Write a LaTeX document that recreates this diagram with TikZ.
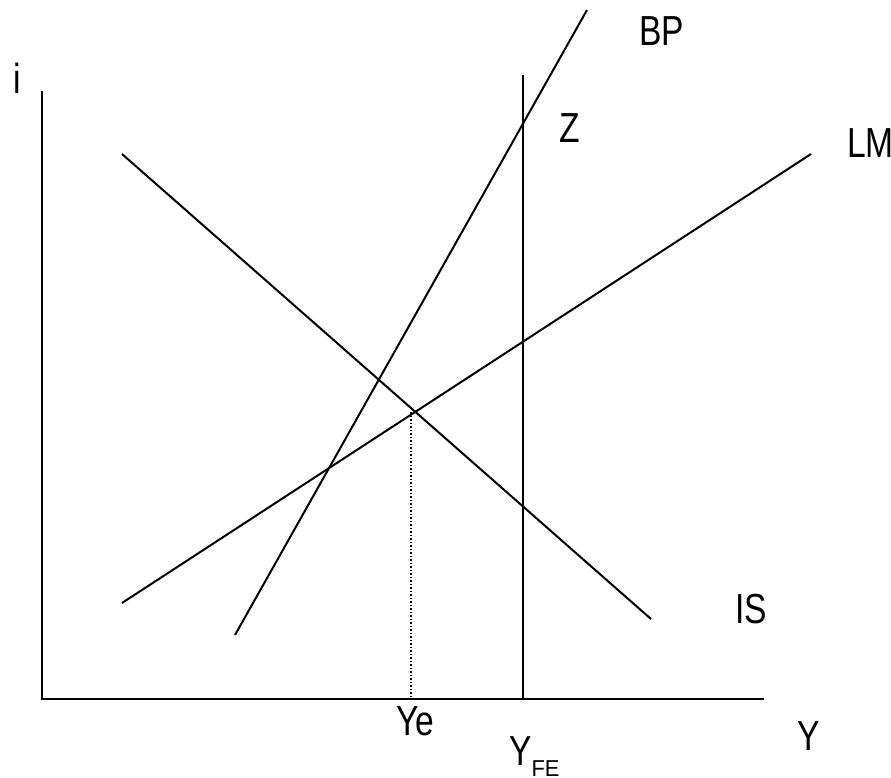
\documentclass[tikz,border=0pt]{standalone}
\usepackage{fontspec}
\setmainfont{Liberation Sans}[FakeStretch=0.8]
\newfontfamily\subfont{Liberation Sans}[FakeStretch=0.95]
\begin{document}
\begin{tikzpicture}[x=1pt,y=-1pt,
  curve/.style={line width=2pt,line cap=butt},
  lbl/.style={anchor=base west,inner sep=0pt,font=\fontsize{42}{50}\selectfont}]
\useasboundingbox (0,0) rectangle (891,778);
% axes
\coordinate (otop) at (42,91);
\coordinate (o) at (42,699);
\coordinate (xend) at (764,699);
\draw[curve] (otop) -- (o) -- (xend);
% full employment line
\coordinate (fetop) at (523,75);
\coordinate (febot) at (523,699);
\draw[curve] (fetop) -- (febot);
% IS
\coordinate (is1) at (122,154);
\coordinate (is2) at (651,619);
\draw[curve] (is1) -- (is2);
% LM
\coordinate (lm1) at (122,603);
\coordinate (lm2) at (811,154);
\draw[curve] (lm1) -- (lm2);
% BP
\coordinate (bp1) at (235,635);
\coordinate (bp2) at (587,10);
\draw[curve] (bp1) -- (bp2);
% dotted
\coordinate (eq) at (411,412);
\coordinate (eqb) at (411,699);
\draw[line width=1.5pt,dotted] (eq) -- (eqb);
% labels
\node[lbl] (li) at (13,94) {i};
\node[lbl] (lbp) at (639,46) {BP};
\node[lbl] (lz) at (559,143) {Z};
\node[lbl] (llm) at (847,158) {LM};
\node[lbl] (lis) at (735,623) {IS};
\node[lbl] (lye) at (396,735) {Ye};
\node[lbl] (lyfe) at (509,765) {Y\raisebox{-11pt}{\subfont\fontsize{23}{27}\selectfont FE}};
\node[lbl] (ly) at (797,750) {Y};
\end{tikzpicture}
\end{document}
